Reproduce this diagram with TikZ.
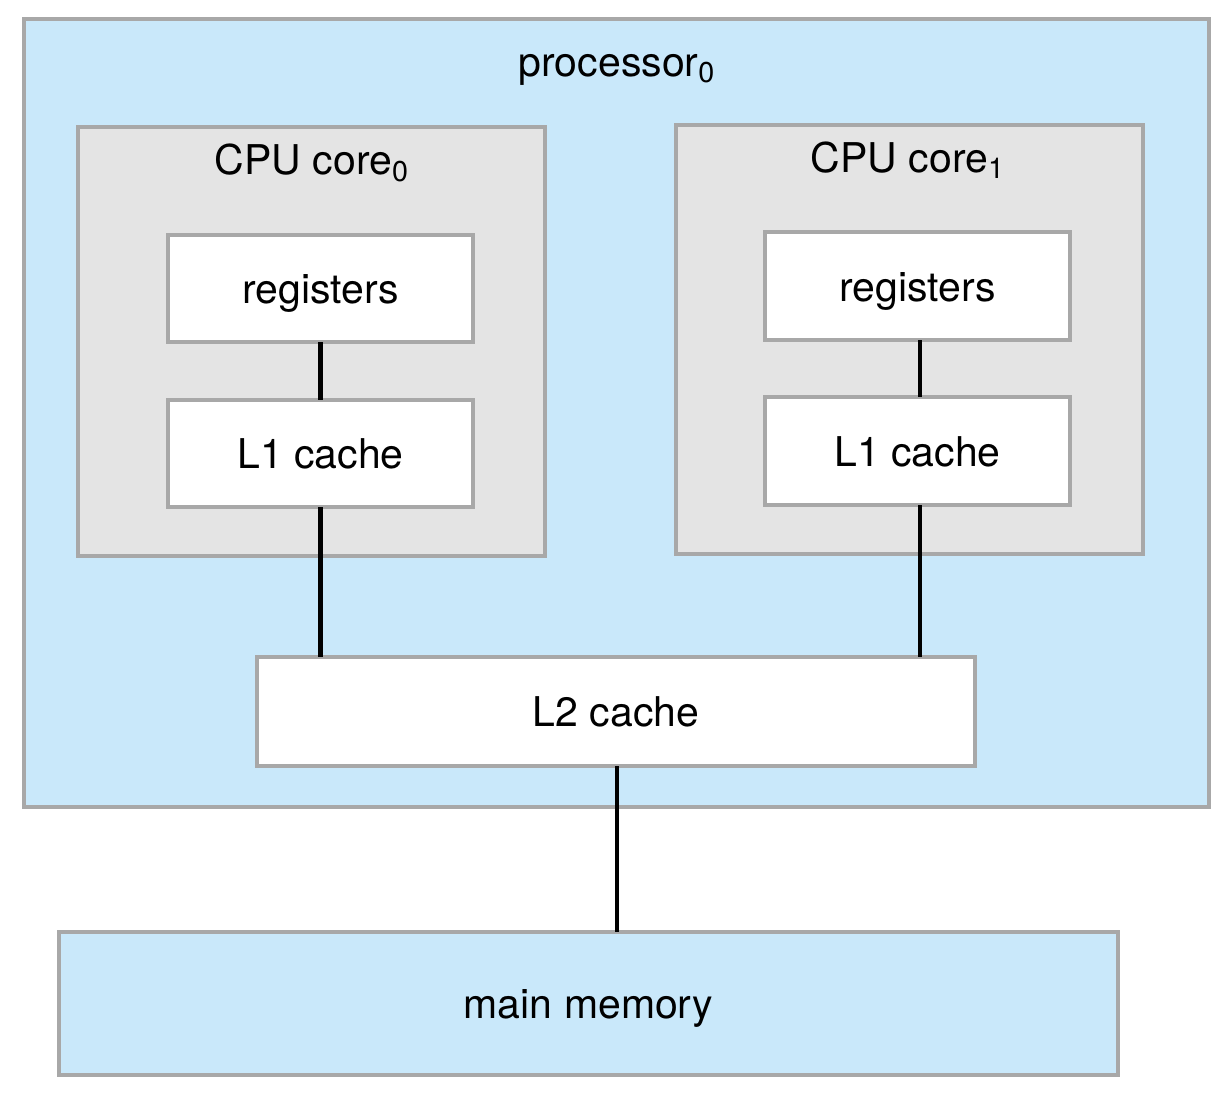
\documentclass[tikz,border=0pt]{standalone}
\usepackage{fontspec}
\setmainfont{TeX Gyre Heros}
\definecolor{procblue}{HTML}{C9E8FA}
\definecolor{coregray}{HTML}{E4E4E4}
\definecolor{bordergray}{HTML}{A8A8A8}
\begin{document}
\begin{tikzpicture}[x=0.5pt,y=-0.5pt,
  box/.style={draw=bordergray, line width=1.75pt, inner sep=0pt, outer sep=0pt, text height=19pt, text depth=4pt, font=\fontsize{20.5}{24}\selectfont},
  lbl/.style={inner sep=0pt, font=\fontsize{20.5}{24}\selectfont},
  wire/.style={line width=2.4pt, black}]
\useasboundingbox (0,0) rectangle (1232,1108);
\node[box, fill=procblue, minimum width=592.5pt, minimum height=394pt] (proc) at (616.5,413) {};
\node[lbl] (proclbl) at (617,70) {processor\textsubscript{0}};
\node[box, fill=coregray, minimum width=233.5pt, minimum height=214.5pt] (core0) at (311.5,341.5) {};
\node[box, fill=coregray, minimum width=233.5pt, minimum height=214.5pt] (core1) at (909.5,339.5) {};
\node[lbl] (core0lbl) at (312,163) {CPU core\textsubscript{0}};
\node[lbl] (core1lbl) at (908,160) {CPU core\textsubscript{1}};
\node[box, fill=white, minimum width=152.5pt, minimum height=53.5pt] (reg0) at (320.5,288.5) {registers};
\node[box, fill=white, minimum width=152.5pt, minimum height=53.5pt] (l10) at (320.5,453.5) {L1 cache};
\node[box, fill=white, minimum width=152.5pt, minimum height=54pt] (reg1) at (917.5,286) {registers};
\node[box, fill=white, minimum width=152.5pt, minimum height=54pt] (l11) at (917.5,451) {L1 cache};
\node[box, fill=white, minimum width=359pt, minimum height=54.5pt] (l2) at (616,711.5) {L2 cache};
\node[box, fill=procblue, minimum width=529.5pt, minimum height=71.5pt] (mem) at (588.5,1003.5) {main memory};
\draw[wire] (reg0.south) -- (l10.north);
\draw[wire] (reg1.south -| 920,0) -- (l11.north -| 920,0);
\draw[wire] (l10.south) -- (l10.south |- l2.north);
\draw[wire] (l11.south -| 920,0) -- (l2.north -| 920,0);
\draw[wire] (l2.south -| 617,0) -- (mem.north -| 617,0);
\end{tikzpicture}
\end{document}
